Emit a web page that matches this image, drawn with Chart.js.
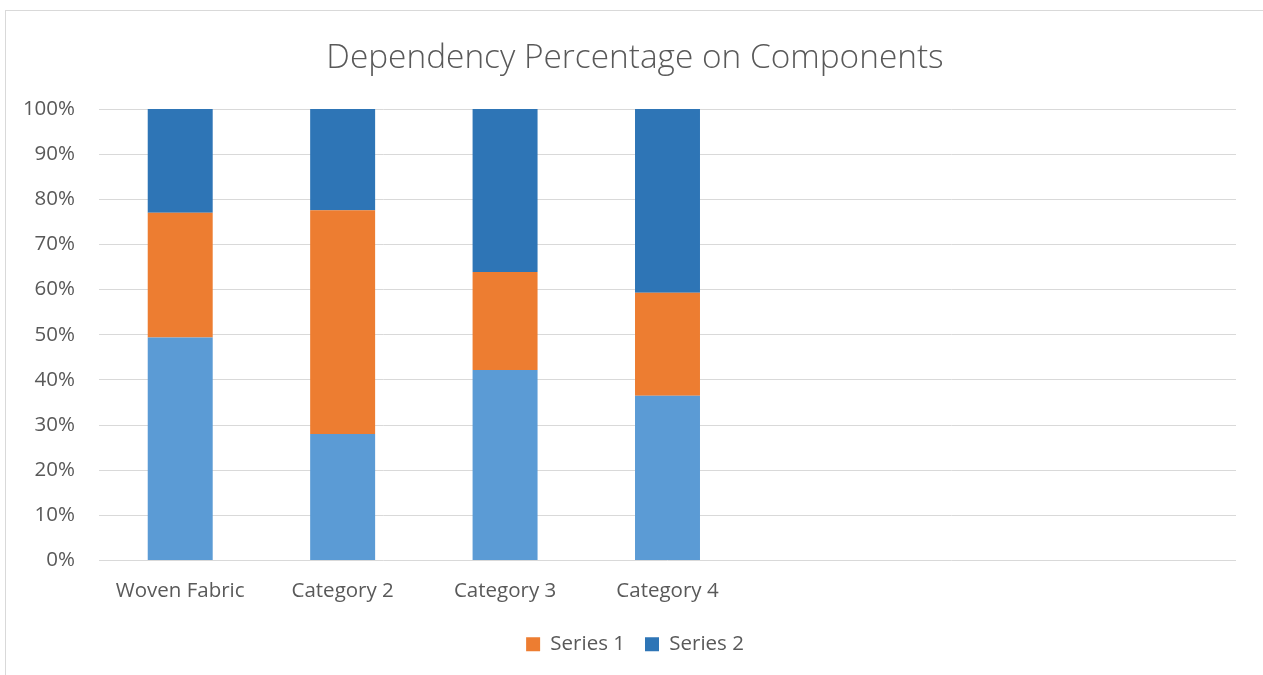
<!DOCTYPE html>
<html>
<head>
<meta charset="utf-8">
<script src="https://cdn.jsdelivr.net/npm/chart.js@4.4.1/dist/chart.umd.min.js"></script>
<style>
  html, body { margin: 0; padding: 0; background: #fff; overflow: hidden; }
  #frame { position: absolute; left: 5px; top: 10px; width: 1300px; height: 700px; border: 1px solid #d9d9d9; box-sizing: border-box; }
  #c { position: absolute; left: 0; top: 0; }
</style>
</head>
<body>
<div id="frame"></div>
<canvas id="c" width="1263" height="675"></canvas>
<script>
const categories = ["Woven Fabric", "Category 2", "Category 3", "Category 4", "", "", ""];
const baseValues = [49.4, 28.0, 42.2, 36.5, null, null, null];
const series1Values = [27.6, 49.6, 21.7, 22.8, null, null, null];
const series2Values = [23.0, 22.4, 36.1, 40.7, null, null, null];
const yTicks = [0, 10, 20, 30, 40, 50, 60, 70, 80, 90, 100];

const FONT = "'Open Sans', 'Noto Sans', sans-serif";
const TEXT = "#595959";
const FS = 20.5;

new Chart(document.getElementById("c"), {
  type: "bar",
  data: {
    labels: categories,
    datasets: [
      { label: "Series 3", data: baseValues, backgroundColor: "#5B9BD5", yAxisID: "y" },
      { label: "Series 1", data: series1Values, backgroundColor: "#ED7D31", yAxisID: "y" },
      { label: "Series 2", data: series2Values, backgroundColor: "#2E75B6", yAxisID: "y" }
    ]
  },
  options: {
    responsive: false,
    animation: false,
    layout: { padding: { top: 38, right: 0, bottom: 10.5, left: 7 } },
    datasets: { bar: { categoryPercentage: 0.4, barPercentage: 1.0 } },
    plugins: {
      tooltip: { enabled: false },
      title: {
        display: true,
        text: "Dependency Percentage on Components",
        color: TEXT,
        font: { family: FONT, size: 33.4, weight: 300, lineHeight: 1.2 },
        padding: { top: 0, bottom: 109 - 38 - 33.4 * 1.2 }
      },
      legend: {
        position: "bottom",
        labels: {
          filter: (item) => item.text !== "Series 3",
          color: TEXT,
          font: { family: FONT, size: FS },
          boxWidth: 14,
          boxHeight: 14,
          padding: 20
        }
      }
    },
    scales: {
      x: {
        stacked: true,
        grid: { display: false, drawTicks: false },
        border: { display: false },
        ticks: { color: TEXT, font: { family: FONT, size: FS }, padding: 18, maxRotation: 0, autoSkip: false },
        afterFit: (s) => { s.height = 53.5; }
      },
      y: {
        stacked: true,
        position: "left",
        min: 0,
        max: 100,
        afterBuildTicks: (s) => { s.ticks = yTicks.map(v => ({ value: v })); },
        grid: { color: "#d9d9d9", lineWidth: 1, drawTicks: false },
        border: { display: false },
        ticks: { color: TEXT, font: { family: FONT, size: FS }, padding: 24, callback: (v) => v + "%" },
        afterFit: (s) => { s.width = 92; }
      },
      yRight: {
        type: "linear",
        position: "right",
        grid: { display: false, drawTicks: false },
        border: { display: false },
        ticks: { display: false },
        afterFit: (s) => { s.width = 27; }
      }
    }
  }
});
</script>
</body>
</html>
